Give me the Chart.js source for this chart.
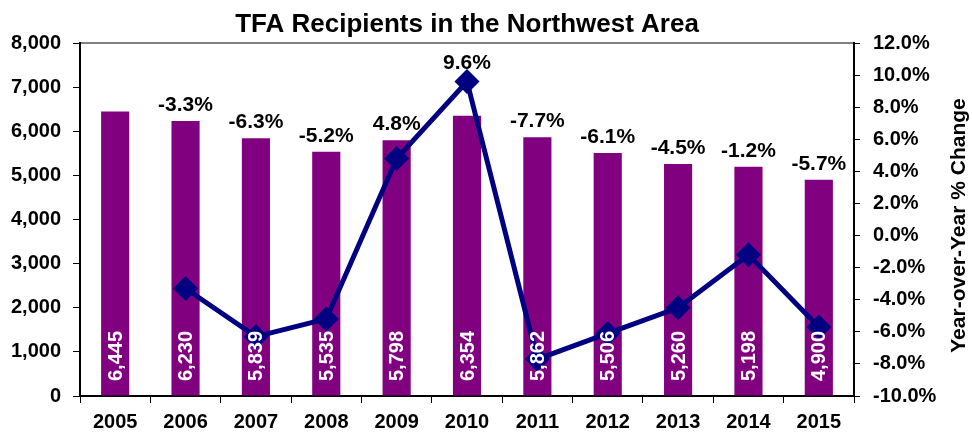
<!DOCTYPE html>
<html>
<head>
<meta charset="utf-8">
<script src="https://cdn.jsdelivr.net/npm/chart.js@4/dist/chart.umd.min.js"></script>
<style>
  body { margin: 0; background: #fff; }
  #wrap { width: 972px; height: 432px; position: relative; }
</style>
</head>
<body>
<div id="wrap"><canvas id="chart1Canv"></canvas></div>
<script>
const years = ['2005', '2006', '2007', '2008', '2009', '2010', '2011', '2012', '2013', '2014', '2015'];
const recipients = [6445, 6230, 5839, 5535, 5798, 6354, 5862, 5506, 5260, 5198, 4900];
const pctChange = [null, -3.3, -6.3, -5.2, 4.8, 9.6, -7.7, -6.1, -4.5, -1.2, -5.7];

const titleText = 'TFA Recipients in the Northwest Area';
const rightTitle = 'Year-over-Year % Change';
const fontFam = '"Liberation Sans", Arial, sans-serif';

// title, frame, bar values and % labels
const extras = {
    id: 'extras',
    beforeDraw(chart) {
        const ctx = chart.ctx;
        const a = chart.chartArea;
        ctx.save();
        ctx.strokeStyle = '#808080';
        ctx.lineWidth = 2;
        ctx.beginPath();
        ctx.moveTo(a.left, a.top);
        ctx.lineTo(a.right, a.top);
        ctx.stroke();
        ctx.restore();
    },
    afterDatasetsDraw(chart) {
        const ctx = chart.ctx;
        const a = chart.chartArea;
        const barMeta = chart.getDatasetMeta(0);
        const lineMeta = chart.getDatasetMeta(1);
        ctx.save();

        // title
        ctx.fillStyle = '#000';
        ctx.font = 'bold 26px ' + fontFam;
        ctx.textAlign = 'center';
        ctx.textBaseline = 'alphabetic';
        ctx.fillText(titleText, (a.left + a.right) / 2, 32);

        // right axis title
        ctx.save();
        ctx.translate(959, (a.top + a.bottom) / 2 + 6);
        ctx.rotate(-Math.PI / 2);
        ctx.font = 'bold 21px ' + fontFam;
        ctx.textBaseline = 'middle';
        ctx.fillText(rightTitle, 0, 0);
        ctx.restore();

        // values inside bars
        ctx.font = 'bold 20px ' + fontFam;
        ctx.fillStyle = '#fff';
        barMeta.data.forEach((bar, i) => {
            ctx.save();
            ctx.translate(bar.x, a.bottom - 15);
            ctx.rotate(-Math.PI / 2);
            ctx.textAlign = 'left';
            ctx.textBaseline = 'middle';
            ctx.fillText(recipients[i].toLocaleString('en-US'), 0, 1);
            ctx.restore();
        });

        // % labels above
        ctx.fillStyle = '#000';
        ctx.font = 'bold 21px ' + fontFam;
        ctx.textAlign = 'center';
        ctx.textBaseline = 'alphabetic';
        pctChange.forEach((v, i) => {
            if (v === null) return;
            const bar = barMeta.data[i];
            const pt = lineMeta.data[i];
            const y = Math.min(bar.y - 10, pt.y - 13);
            ctx.fillText(v.toFixed(1) + '%', bar.x, y);
        });
        ctx.restore();
    }
};

const tickFont = { family: fontFam, size: 20, weight: 'bold' };

const chart1Canv = document.getElementById('chart1Canv');
const chart1Chart = new Chart(chart1Canv, {
    type: 'bar',
    data: {
        labels: years,
        datasets: [{
            type: 'bar',
            label: 'Recipients',
            data: recipients,
            backgroundColor: '#800080',
            barPercentage: 0.4,
            categoryPercentage: 1.0,
            yAxisID: 'y',
            order: 2
        },
        {
            type: 'line',
            label: 'Year-over-Year % Change',
            data: pctChange,
            borderColor: '#000080',
            backgroundColor: '#000080',
            borderWidth: 5,
            pointStyle: 'rectRot',
            pointRadius: 9,
            pointBackgroundColor: '#000080',
            pointBorderColor: '#000080',
            spanGaps: false,
            tension: 0,
            yAxisID: 'y2',
            order: 1
        }]
    },
    options: {
        responsive: true,
        maintainAspectRatio: false,
        animation: false,
        layout: { padding: { top: 43, left: 0, right: 0, bottom: 0 } },
        plugins: {
            legend: { display: false },
            title: { display: false },
            tooltip: { enabled: false }
        },
        scales: {
            x: {
                grid: { drawOnChartArea: false, color: '#000', tickLength: 7, offset: true },
                border: { color: '#000', width: 2 },
                ticks: { font: tickFont, color: '#000', padding: 7, maxRotation: 0 },
                afterFit: s => { s.height = 36; }
            },
            y: {
                position: 'left',
                min: 0,
                max: 8000,
                grid: { drawOnChartArea: false, color: '#000', tickLength: 7 },
                border: { color: '#000', width: 2 },
                ticks: {
                    stepSize: 1000,
                    font: tickFont,
                    color: '#000',
                    padding: 12,
                    callback: v => v.toLocaleString('en-US')
                },
                afterFit: s => { s.width = 80; }
            },
            y2: {
                position: 'right',
                min: -10,
                max: 12,
                grid: { drawOnChartArea: false, color: '#000', tickLength: 6 },
                border: { color: '#000', width: 2 },
                ticks: {
                    stepSize: 2,
                    font: tickFont,
                    color: '#000',
                    padding: 13,
                    callback: v => v.toFixed(1) + '%'
                },
                afterFit: s => { s.width = 118; }
            }
        }
    },
    plugins: [extras]
});
</script>
</body>
</html>
